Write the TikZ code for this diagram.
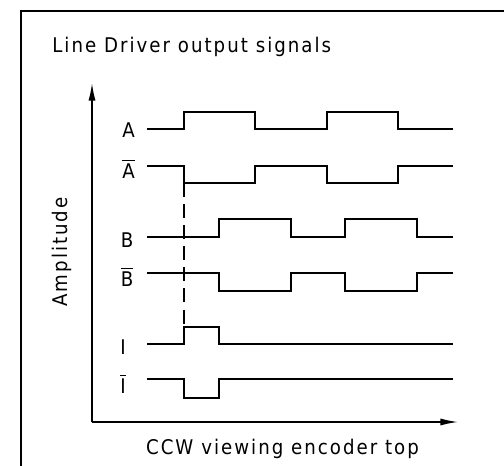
\documentclass[tikz,border=0pt]{standalone}
\usepackage{fontspec}
\setmainfont{DejaVu Sans Condensed}[LetterSpace=10]
\usetikzlibrary{arrows.meta}
\tikzset{
  sig/.style={line width=1.2pt, line join=miter},
  axis/.style={line width=0.8pt, -{Latex[length=10pt, width=4pt]}},
  lbl/.style={anchor=base, inner sep=0pt, font=\fontsize{11.5}{13}\selectfont},
}
\begin{document}
\begin{tikzpicture}[x=0.02cm, y=-0.02cm]
\useasboundingbox (0,0) rectangle (504,466);
\draw[line width=1.4pt] (504,11) -- (21,11) -- (21,466);

\coordinate (origin) at (92,422);
\coordinate (ytip) at (92,83);
\coordinate (xtip) at (458,422);
\draw[axis] (origin) -- (ytip);
\draw[axis] (origin) -- (xtip);

\node[lbl, anchor=base west] (title) at (52,53) {Line Driver output signals};
\node[lbl, rotate=90] (amp) at (67,252) {Amplitude};
\node[lbl] (ccw) at (282.5,454) {CCW viewing encoder top};

\foreach \n/\x/\y/\t in {a/128.5/138/A, abar/128.5/178/$\overline{\hbox{A}}$,
                         b/127/247/B, bbar/127/286/$\overline{\hbox{B}}$,
                         i/123/354/I, ibar/123/393/$\overline{\hbox{I}}$} {
  \node[lbl] (\n) at (\x,\y) {\t};
}

\draw[sig] (147,129) -- (184,129) -- (184,112) -- (255,112) -- (255,129) -- (327,129)
  -- (327,112) -- (398,112) -- (398,129) -- (453,129);
\draw[sig] (147,166) -- (184,166) -- (184,183) -- (255,183) -- (255,166) -- (327,166)
  -- (327,183) -- (398,183) -- (398,166) -- (453,166);
\draw[sig] (147,237) -- (219,237) -- (219,219) -- (291,219) -- (291,237) -- (345,237)
  -- (345,219) -- (417,219) -- (417,237) -- (453,237);
\draw[sig] (147,273) -- (219,273) -- (219,291) -- (291,291) -- (291,273) -- (345,273)
  -- (345,291) -- (417,291) -- (417,273) -- (453,273);
\draw[sig] (147,344) -- (184,344) -- (184,327) -- (219,327) -- (219,344) -- (453,344);
\draw[sig] (147,379) -- (184,379) -- (184,398) -- (219,398) -- (219,379) -- (453,379);

\coordinate (d0) at (184,183);
\coordinate (d1) at (184,327);
\draw[line width=0.6pt, dash pattern=on 8pt off 4pt] (d0) -- (d1);
\end{tikzpicture}
\end{document}
